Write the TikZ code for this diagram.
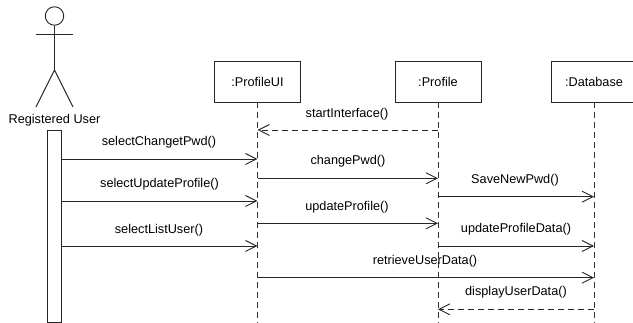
\documentclass[tikz,border=0pt]{standalone}
\usepackage{fontspec}
\setmainfont{Liberation Sans}
\usetikzlibrary{arrows.meta}
\tikzset{
  lifebox/.style={draw=black!85,line width=0.9pt,fill=white,minimum width=86pt,minimum height=40.5pt,inner sep=0pt,font=\fontsize{12.7}{14}\selectfont},
  lifeline/.style={draw=black!80,line width=0.9pt,dash pattern=on 6pt off 4pt},
  msg/.style={draw=black!85,line width=0.9pt,-{Straight Barb[length=11pt,width=11pt,line width=0.9pt]}},
  ret/.style={msg,dash pattern=on 6pt off 4pt},
  lbl/.style={inner sep=0pt,font=\fontsize{12.7}{14}\selectfont,text=black},
  stick/.style={draw=black!85,line width=0.9pt},
}
\begin{document}
\begin{tikzpicture}[x=1pt,y=-1pt]
\useasboundingbox (0,0) rectangle (633,323);
\clip (0,0) rectangle (633,323);
% actor
\node[circle,stick,minimum size=18.5pt,inner sep=0pt] (head) at (54.5,16) {};
\coordinate (hip) at (54.5,70);
\coordinate (armL) at (36,34);
\coordinate (armR) at (73,34);
\coordinate (legL) at (36,107);
\coordinate (legR) at (73,107);
\draw[stick] (head.south) -- (hip);
\draw[stick] (armL) -- (armR);
\draw[stick] (legL) -- (hip) -- (legR);
\node[lbl] (actor) at (54.5,120.5) {Registered User};
\node[stick,draw,fill=white,minimum width=14.5pt,minimum height=191.5pt,inner sep=0pt] (act) at (54.25,226.25) {};
% objects
\node[lifebox,draw] (ui) at (257.5,81.75) {:ProfileUI};
\node[lifebox,draw] (pr) at (438,81.75) {:Profile};
\node[lifebox,draw] (db) at (594,81.75) {:Database};
\coordinate (uiEnd) at (257.5,323);
\coordinate (prEnd) at (438,323);
\coordinate (dbEnd) at (594,323);
\draw[lifeline] (ui.south) -- (uiEnd);
\draw[lifeline] (pr.south) -- (prEnd);
\draw[lifeline] (db.south) -- (dbEnd);
% messages
\draw[ret] (pr.south |- 0,130) -- (ui.south |- 0,130);
\draw[msg] (act.east |- 0,159) -- (ui.south |- 0,159);
\draw[msg] (ui.south |- 0,178.3) -- (pr.south |- 0,178.3);
\draw[msg] (pr.south |- 0,196.7) -- (db.south |- 0,196.7);
\draw[msg] (act.east |- 0,201) -- (ui.south |- 0,201);
\draw[msg] (ui.south |- 0,223.3) -- (pr.south |- 0,223.3);
\draw[msg] (act.east |- 0,246) -- (ui.south |- 0,246);
\draw[msg] (pr.south |- 0,246) -- (db.south |- 0,246);
\draw[msg] (ui.south |- 0,277.7) -- (db.south |- 0,277.7);
\draw[ret] (db.south |- 0,309.3) -- (pr.south |- 0,309.3);
% labels
\node[lbl] (l1) at (347,114) {startInterface()};
\node[lbl] (l2) at (159,142.5) {selectChangetPwd()};
\node[lbl] (l3) at (348,161.5) {changePwd()};
\node[lbl] (l4) at (515,180.5) {SaveNewPwd()};
\node[lbl] (l5) at (159.5,184.5) {selectUpdateProfile()};
\node[lbl] (l6) at (347,207.5) {updateProfile()};
\node[lbl] (l7) at (516,229.5) {updateProfileData()};
\node[lbl] (l8) at (159,230) {selectListUser()};
\node[lbl] (l9) at (425,261.5) {retrieveUserData()};
\node[lbl] (l10) at (516,292.5) {displayUserData()};
\end{tikzpicture}
\end{document}
